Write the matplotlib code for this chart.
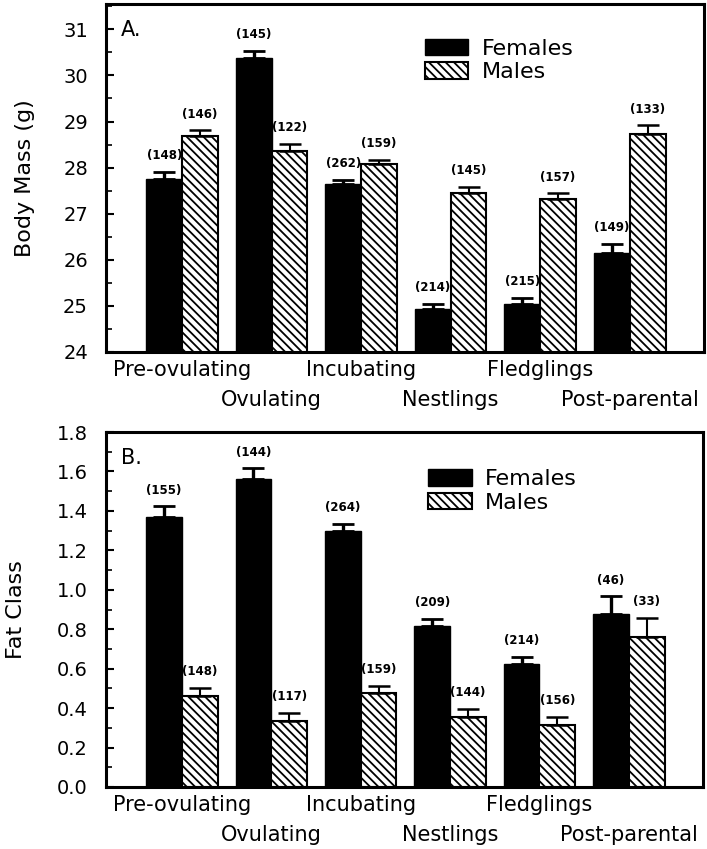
import matplotlib
matplotlib.use("Agg")
import matplotlib.pyplot as plt
from matplotlib.ticker import MultipleLocator, FormatStrFormatter
import numpy as np

stages = ["Pre-ovulating", "Ovulating", "Incubating", "Nestlings", "Fledglings", "Post-parental"]

# Panel A: body mass (g)
mass_f = [27.75, 30.37, 27.64, 24.93, 25.05, 26.15]
mass_f_se = [0.16, 0.17, 0.09, 0.11, 0.12, 0.20]
mass_f_n = [148, 145, 262, 214, 215, 149]
mass_m = [28.69, 28.36, 28.07, 27.46, 27.32, 28.72]
mass_m_se = [0.12, 0.15, 0.10, 0.13, 0.12, 0.20]
mass_m_n = [146, 122, 159, 145, 157, 133]

# Panel B: fat class
fat_f = [1.367, 1.562, 1.296, 0.814, 0.624, 0.877]
fat_f_se = [0.056, 0.054, 0.037, 0.037, 0.037, 0.089]
fat_f_n = [155, 144, 264, 209, 214, 46]
fat_m = [0.462, 0.335, 0.475, 0.357, 0.315, 0.763]
fat_m_se = [0.040, 0.040, 0.038, 0.040, 0.040, 0.096]
fat_m_n = [148, 117, 159, 144, 156, 33]

plt.rcParams["font.family"] = ["DejaVu Sans"]
plt.rcParams["hatch.linewidth"] = 1.3

fig = plt.figure(figsize=(7.07, 8.49), dpi=100)
W, H = 707, 849
axA = fig.add_axes([106 / W, 1 - 352 / H, 598 / W, 348 / H])
axB = fig.add_axes([106 / W, 1 - 787 / H, 597 / W, 355 / H])

x = np.arange(len(stages))
w = 0.4


def panel(ax, fem, fem_se, fem_n, mal, mal_se, mal_n, ylim, major, minor, fmt,
          ylabel, lpad, tag, leg_xy):
    zeros = np.zeros(len(fem))
    ax.bar(x - w / 2, fem, w, color="black", edgecolor="black",
           linewidth=1, label="Females")
    ax.bar(x + w / 2, mal, w, color="white", edgecolor="black",
           linewidth=1.5, hatch="\\\\\\\\", label="Males")
    ax.errorbar(x - w / 2, fem, yerr=[zeros, fem_se], fmt="none", ecolor="black",
                elinewidth=2.4, capsize=8, capthick=2)
    ax.errorbar(x + w / 2, mal, yerr=[zeros, mal_se], fmt="none", ecolor="black",
                elinewidth=1.5, capsize=8, capthick=1.8)
    for xs, vals, errs, ns in [(x - w / 2, fem, fem_se, fem_n),
                               (x + w / 2, mal, mal_se, mal_n)]:
        for xi, v, e, n in zip(xs, vals, errs, ns):
            ax.annotate(f"({n})", (xi, v + e), xytext=(0, 7),
                        textcoords="offset points", ha="center", va="bottom",
                        fontsize=8.5, fontweight="bold")
    ax.set_xlim(-0.85, 5.83)
    ax.set_ylim(*ylim)
    ax.yaxis.set_major_locator(MultipleLocator(major))
    ax.yaxis.set_minor_locator(MultipleLocator(minor))
    ax.yaxis.set_major_formatter(FormatStrFormatter(fmt))
    ax.tick_params(axis="y", which="major", direction="in", length=6, width=1.5,
                   labelsize=14, pad=13)
    ax.tick_params(axis="y", which="minor", direction="in", length=4, width=1.2)
    # stage names alternate between two rows
    ax.set_xticks(x[0::2], stages[0::2])
    ax.set_xticks(x[1::2], stages[1::2], minor=True)
    ax.tick_params(axis="x", which="major", length=0, labelsize=15, pad=6)
    ax.tick_params(axis="x", which="minor", length=0, labelsize=15, pad=27.5)
    for sp in ax.spines.values():
        sp.set_linewidth(2.2)
    ax.set_ylabel(ylabel, fontsize=16, labelpad=lpad)
    ax.text(0.025, 0.955, tag, transform=ax.transAxes, fontsize=15,
            ha="left", va="top")
    ax.legend(loc="upper left", bbox_to_anchor=leg_xy, frameon=False,
              fontsize=16, handlelength=1.95, handleheight=0.75,
              handletextpad=0.6, labelspacing=0.15, borderpad=0,
              borderaxespad=0)


panel(axA, mass_f, mass_f_se, mass_f_n, mass_m, mass_m_se, mass_m_n,
      (24, 31.55), 1, 0.5, "%d", "Body Mass (g)", 20, "A.", (0.533, 0.9))
panel(axB, fat_f, fat_f_se, fat_f_n, fat_m, fat_m_se, fat_m_n,
      (0, 1.8), 0.2, 0.1, "%.1f", "Fat Class", 22, "B.", (0.54, 0.895))

fig.savefig("out.png", dpi=100)
